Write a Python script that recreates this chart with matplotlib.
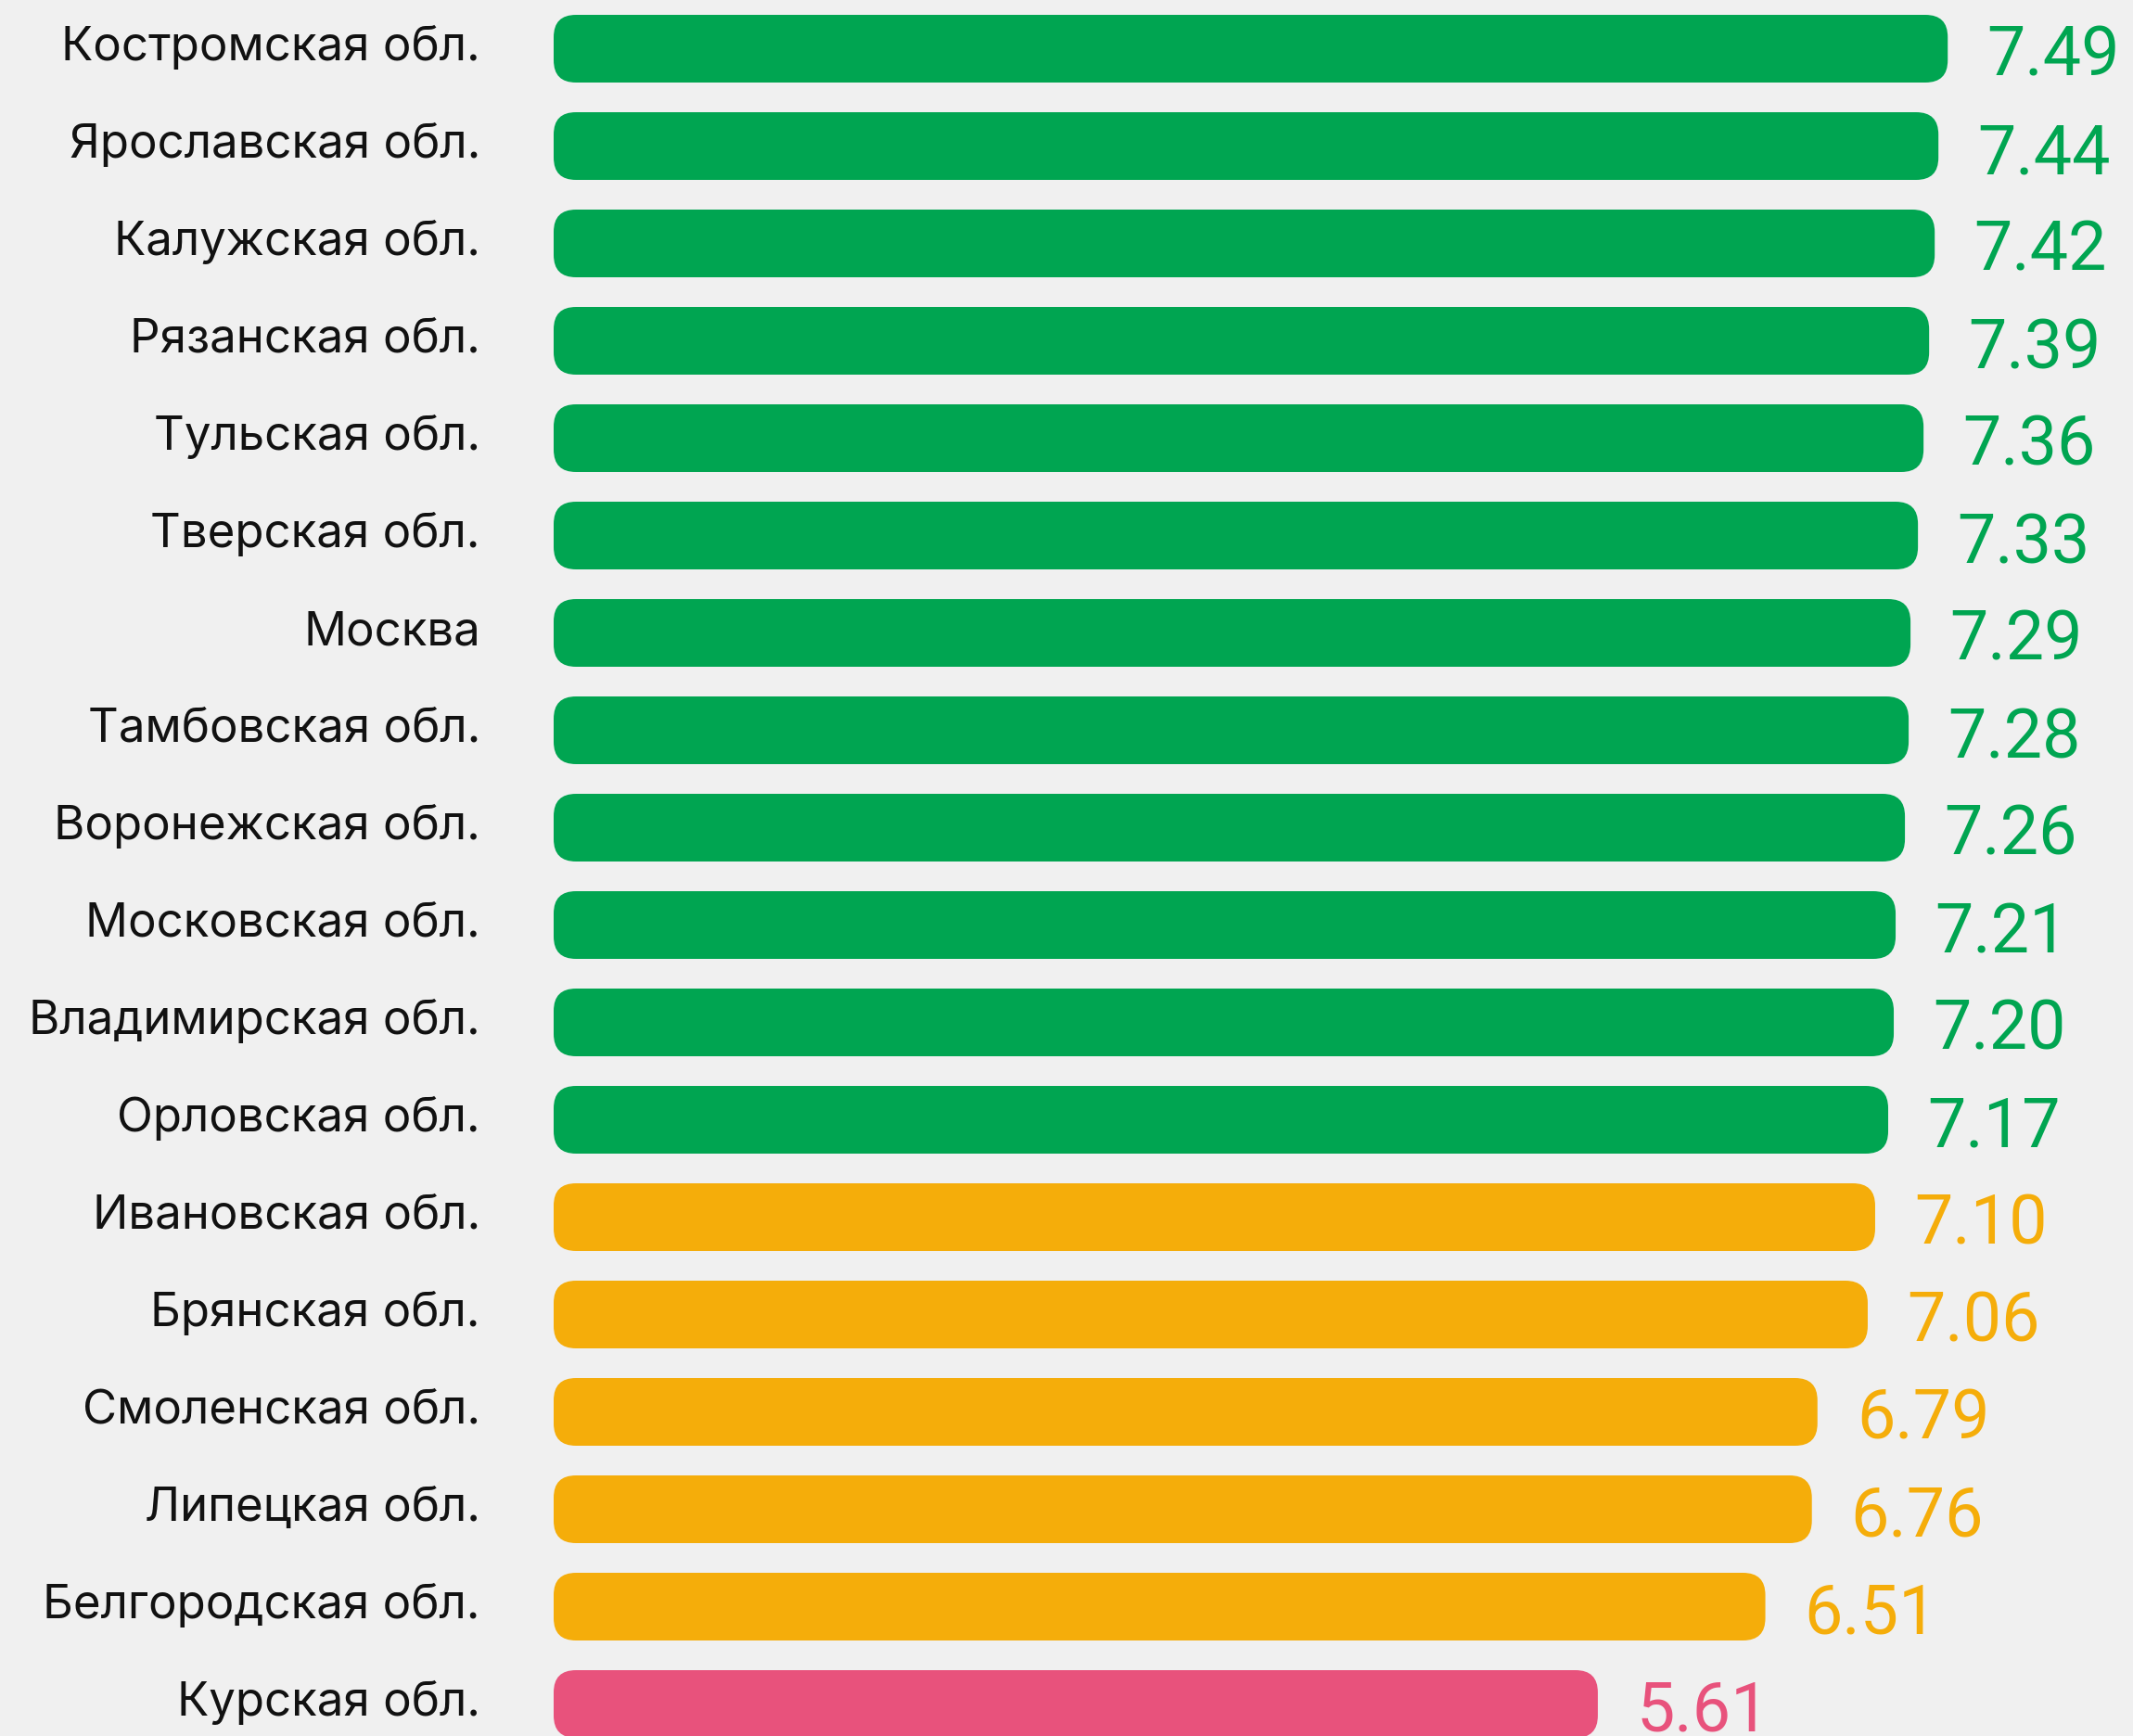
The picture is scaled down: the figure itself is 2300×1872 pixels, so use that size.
"""
Rounded horizontal bar chart of regional scores.
"""

import matplotlib
matplotlib.use("Agg")
import matplotlib.pyplot as plt
import matplotlib.transforms as mtransforms
from matplotlib.patches import FancyBboxPatch

regions = [
    "Костромская обл.", "Ярославская обл.", "Калужская обл.", "Рязанская обл.",
    "Тульская обл.", "Тверская обл.", "Москва", "Тамбовская обл.",
    "Воронежская обл.", "Московская обл.", "Владимирская обл.", "Орловская обл.",
    "Ивановская обл.", "Брянская обл.", "Смоленская обл.", "Липецкая обл.",
    "Белгородская обл.", "Курская обл.",
]
scores = [7.49, 7.44, 7.42, 7.39, 7.36, 7.33, 7.29, 7.28, 7.26, 7.21,
          7.20, 7.17, 7.10, 7.06, 6.79, 6.76, 6.51, 5.61]
groups = ["high"] * 12 + ["mid"] * 5 + ["low"]

group_colors = {"high": "#00A551", "mid": "#F5AD0A", "low": "#E8527C"}

W, H, DPI = 2300, 1872, 100
x0_px, px_per_unit = 597, 200.7      # bar origin and horizontal scale
row_px, first_row_px = 105, 52.5     # row pitch and centre of first row
bar_h = 0.695
radius_px = 24

fig = plt.figure(figsize=(W / DPI, H / DPI), dpi=DPI)
fig.patch.set_facecolor("#F0F0F0")
ax = fig.add_axes([0, 0, 1, 1])
ax.set_facecolor("#F0F0F0")
ax.set_xlim(-x0_px / px_per_unit, (W - x0_px) / px_per_unit)
ax.set_ylim((H - first_row_px) / row_px, -first_row_px / row_px)
ax.axis("off")

aspect = px_per_unit / row_px
label_tr = mtransforms.offset_copy(ax.transData, fig=fig, x=-79, y=-12.5, units="dots")

for i, (name, val, g) in enumerate(zip(regions, scores, groups)):
    col = group_colors[g]
    box = FancyBboxPatch(
        (0, i - bar_h / 2), val, bar_h,
        boxstyle=f"round,pad=0,rounding_size={radius_px / px_per_unit}",
        mutation_aspect=aspect, facecolor=col, edgecolor="none",
    )
    ax.add_patch(box)
    ax.text(0, i, name, transform=label_tr, ha="right", va="baseline",
            fontsize=36.7, family="Inter", color="#111111")
    val_tr = mtransforms.offset_copy(ax.transData, fig=fig, x=42, y=-29.5, units="dots")
    ax.text(val, i, f"{val:.2f}", transform=val_tr, ha="left", va="baseline",
            fontsize=53, family="Roboto", color=col)

fig.savefig("out.png", dpi=DPI, facecolor=fig.get_facecolor())
